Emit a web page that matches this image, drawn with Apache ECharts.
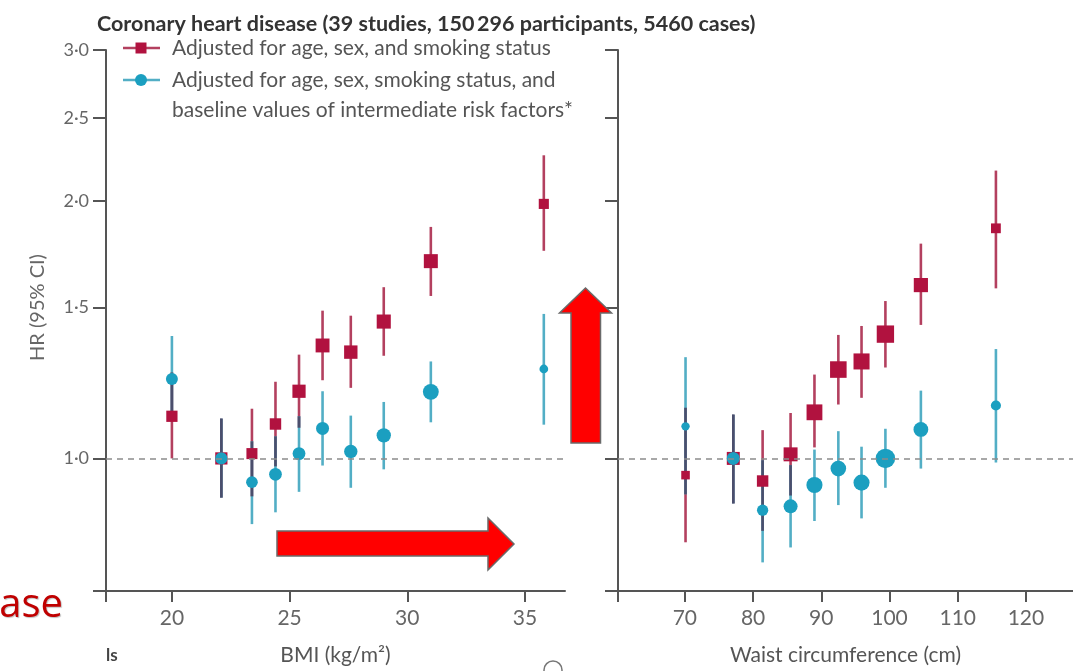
<!DOCTYPE html>
<html>
<head>
<meta charset="utf-8">
<script src="https://cdn.jsdelivr.net/npm/echarts@6/dist/echarts.min.js"></script>
<style>
  html, body { margin: 0; padding: 0; background: #ffffff; }
  #chart { width: 1073px; height: 671px; }
</style>
</head>
<body>
<div id="chart"></div>
<script>
// ---- BMI groups (kg/m2) ----
const bmi = [20.0, 22.1, 23.4, 24.4, 25.4, 26.4, 27.6, 29.0, 31.0, 35.8];
// HR adjusted for age, sex and smoking status
const bmiHrA = [1.120, 1.000, 1.013, 1.097, 1.198, 1.355, 1.331, 1.445, 1.700, 1.983];
const bmiLoA = [1.000, 0.900, 0.903, 0.979, 1.086, 1.234, 1.209, 1.318, 1.548, 1.748];
const bmiHiA = [1.260, 1.113, 1.143, 1.229, 1.322, 1.488, 1.468, 1.585, 1.864, 2.260];
// HR further adjusted for baseline intermediate risk factors
const bmiHrB = [1.238, 1.000, 0.938, 0.958, 1.013, 1.084, 1.019, 1.064, 1.196, 1.272];
const bmiLoB = [1.119, 0.900, 0.838, 0.865, 0.914, 0.981, 0.924, 0.971, 1.102, 1.095];
const bmiHiB = [1.390, 1.113, 1.047, 1.061, 1.120, 1.198, 1.122, 1.164, 1.298, 1.475];

// ---- Waist circumference groups (cm) ----
const waist = [70.1, 77.1, 81.4, 85.5, 89.0, 92.5, 95.9, 99.4, 104.6, 115.6];
const waistHrA = [0.956, 1.000, 0.941, 1.011, 1.132, 1.270, 1.298, 1.397, 1.594, 1.857];
const waistLoA = [0.798, 0.886, 0.823, 0.905, 1.030, 1.156, 1.177, 1.277, 1.432, 1.580];
const waistHiA = [1.146, 1.125, 1.079, 1.130, 1.253, 1.394, 1.428, 1.527, 1.782, 2.169];
const waistHrB = [1.090, 1.000, 0.870, 0.879, 0.931, 0.973, 0.937, 1.000, 1.081, 1.153];
const waistLoB = [0.908, 0.886, 0.756, 0.787, 0.845, 0.882, 0.851, 0.924, 0.973, 0.989];
const waistHiB = [1.313, 1.125, 0.995, 0.982, 1.024, 1.076, 1.032, 1.083, 1.200, 1.342];

// ---- Axis ticks ----
const hrTicks = [0.7, 1.0, 1.5, 2.0, 2.5, 3.0];
const hrLabels = [1.0, 1.5, 2.0, 2.5, 3.0];
const bmiTicks = [20, 25, 30, 35];
const waistTicks = [70, 80, 90, 100, 110, 120];

const nameA = 'Adjusted for age, sex, and smoking status';
const nameB1 = 'Adjusted for age, sex, smoking status, and';
const nameB2 = 'baseline values of intermediate risk factors*';
const titleText = 'Coronary heart disease (39 studies, 150\u2009296 participants, 5460 cases)';

const RED = '#b1123f', RED_LINE = '#b3405f';
const CYAN = '#1b9fc0', CYAN_LINE = '#52aec5';
const DARK = '#4b4e6c';
const AXIS = '#555555', LABEL = '#666666';
const FONT = 'Lato, "Noto Sans", sans-serif';

const bmiRange = [17.2, 36.7];
const waistRange = [60.2, 126.9];

// marker size scales with precision (inverse of the log CI width)
function sizer(k) {
  return v => k / Math.log(v[3] / v[2]);
}

function ciSeries(idx, xs, loA, hiA, loB, hiB) {
  return {
    type: 'custom',
    xAxisIndex: idx, yAxisIndex: idx,
    silent: true, z: 2,
    data: xs.map((x, i) => [x, loA[i], hiA[i], loB[i], hiB[i]]),
    encode: { x: 0, y: [1, 2, 3, 4] },
    renderItem(params, api) {
      const x = api.value(0);
      const seg = (lo, hi, color) => {
        const p1 = api.coord([x, lo]);
        const p2 = api.coord([x, hi]);
        return { type: 'line', shape: { x1: p1[0], y1: p1[1], x2: p2[0], y2: p2[1] },
                 style: { stroke: color, lineWidth: 2.6 } };
      };
      const children = [seg(api.value(1), api.value(2), RED_LINE),
                        seg(api.value(3), api.value(4), CYAN_LINE)];
      const lo = Math.max(api.value(1), api.value(3));
      const hi = Math.min(api.value(2), api.value(4));
      if (hi > lo) children.push(seg(lo, hi, DARK));
      return { type: 'group', children };
    }
  };
}

function pointSeries(idx, name, symbol, color, k, xs, hr, lo, hi, z, withRef) {
  const s = {
    type: 'scatter', name,
    xAxisIndex: idx, yAxisIndex: idx,
    symbol, symbolSize: sizer(k), z,
    itemStyle: { color, opacity: 1 },
    data: xs.map((x, i) => [x, hr[i], lo[i], hi[i]]),
    silent: true
  };
  if (withRef) {
    s.markLine = {
      silent: true, symbol: 'none', label: { show: false },
      lineStyle: { type: [6, 5], color: '#8c8c8c', width: 1.6 },
      data: [{ yAxis: 1 }]
    };
  }
  return s;
}

function xAxis(idx, range, ticks, name) {
  return {
    type: 'value', gridIndex: idx, min: range[0], max: range[1],
    axisLine: { show: true, onZero: false, lineStyle: { color: AXIS, width: 2 } },
    axisTick: { show: true, length: 11, customValues: [range[0]].concat(ticks),
                lineStyle: { color: AXIS, width: 2 } },
    axisLabel: { customValues: ticks, margin: 17, color: LABEL, fontSize: 21, fontFamily: FONT },
    splitLine: { show: false },
    name, nameLocation: 'middle', nameGap: 54,
    nameTextStyle: { color: '#555', fontSize: 21, fontFamily: FONT }
  };
}

function yAxis(idx, showLabels) {
  return {
    type: 'log', gridIndex: idx, min: 0.7, max: 3,
    axisLine: { show: true, onZero: false, lineStyle: { color: AXIS, width: 2 } },
    axisTick: { show: true, length: 13, customValues: hrTicks, lineStyle: { color: AXIS, width: 2 } },
    axisLabel: { show: showLabels, customValues: hrLabels, margin: 17, color: LABEL,
                 fontSize: 18, fontFamily: FONT,
                 formatter: v => Number(v).toFixed(1).replace('.', '\u00b7') },
    splitLine: { show: false },
    name: showLabels ? 'HR (95% CI)' : '', nameLocation: 'middle', nameGap: 58,
    nameTextStyle: { color: LABEL, fontSize: 20, fontFamily: FONT, padding: [0, 0, 0, 26] }
  };
}

const chart = echarts.init(document.getElementById('chart'), null, { renderer: 'canvas' });

const legendY = [48, 80, 110];
const legendFont = '21px ' + FONT;
const legendGraphic = [
  { type: 'line', shape: { x1: 123, y1: legendY[0], x2: 160, y2: legendY[0] }, style: { stroke: RED_LINE, lineWidth: 2.4 } },
  { type: 'rect', shape: { x: 135.5, y: legendY[0] - 5.5, width: 11, height: 11 }, style: { fill: RED } },
  { type: 'text', x: 172, y: legendY[0], style: { text: nameA, fill: '#555', font: legendFont, verticalAlign: 'middle' } },
  { type: 'line', shape: { x1: 123, y1: legendY[1], x2: 160, y2: legendY[1] }, style: { stroke: CYAN_LINE, lineWidth: 2.4 } },
  { type: 'circle', shape: { cx: 141, cy: legendY[1], r: 6 }, style: { fill: CYAN } },
  { type: 'text', x: 172, y: legendY[1], style: { text: nameB1, fill: '#555', font: legendFont, verticalAlign: 'middle' } },
  { type: 'text', x: 172, y: legendY[2], style: { text: nameB2, fill: '#555', font: legendFont, verticalAlign: 'middle' } }
];

const arrowStyle = { fill: '#ff0000', stroke: '#6a6a6a', lineWidth: 1.5 };
const overlays = [
  { type: 'polygon', z: 100, shape: { points: [[277, 531], [488, 531], [488, 518], [514, 544], [488, 570], [488, 556], [277, 556]] }, style: arrowStyle },
  { type: 'polygon', z: 100, shape: { points: [[571, 443], [571, 313], [559.5, 313], [585.5, 288], [611.5, 313], [600.5, 313], [600.5, 443]] }, style: arrowStyle },
  { type: 'text', z: 100, x: 63, y: 606, style: { text: 'ase', fill: '#c00000', font: '40px "Open Sans", sans-serif', align: 'right', verticalAlign: 'middle', textShadowColor: 'rgba(0,0,0,0.25)', textShadowOffsetX: 1, textShadowOffsetY: 1, textShadowBlur: 1 } },
  { type: 'text', z: 100, x: 106, y: 656, style: { text: 'ls', fill: '#444', font: 'bold 17px ' + FONT, verticalAlign: 'middle' } },
  { type: 'circle', z: 100, shape: { cx: 553, cy: 670, r: 9 }, style: { fill: 'none', stroke: '#777', lineWidth: 1.5 } }
];

chart.setOption({
  backgroundColor: '#ffffff',
  animation: false,
  title: {
    text: titleText, left: 92, top: 8,
    textStyle: { color: '#333', fontSize: 21.5, fontWeight: 'bold', fontFamily: FONT }
  },
  grid: [
    { left: 106, top: 50, width: 459, height: 541 },
    { left: 618, top: 50, width: 467, height: 541 }
  ],
  xAxis: [
    xAxis(0, bmiRange, bmiTicks, 'BMI (kg/m\u00b2)'),
    xAxis(1, waistRange, waistTicks, 'Waist circumference (cm)')
  ],
  yAxis: [yAxis(0, true), yAxis(1, false)],
  series: [
    ciSeries(0, bmi, bmiLoA, bmiHiA, bmiLoB, bmiHiB),
    pointSeries(0, nameA, 'rect', RED, 2.6, bmi, bmiHrA, bmiLoA, bmiHiA, 3, true),
    pointSeries(0, nameB1 + ' ' + nameB2, 'circle', CYAN, 2.6, bmi, bmiHrB, bmiLoB, bmiHiB, 4, false),
    ciSeries(1, waist, waistLoA, waistHiA, waistLoB, waistHiB),
    pointSeries(1, nameA, 'rect', RED, 3.1, waist, waistHrA, waistLoA, waistHiA, 3, true),
    pointSeries(1, nameB1 + ' ' + nameB2, 'circle', CYAN, 3.1, waist, waistHrB, waistLoB, waistHiB, 4, false)
  ],
  graphic: legendGraphic.concat(overlays)
});
</script>
</body>
</html>
